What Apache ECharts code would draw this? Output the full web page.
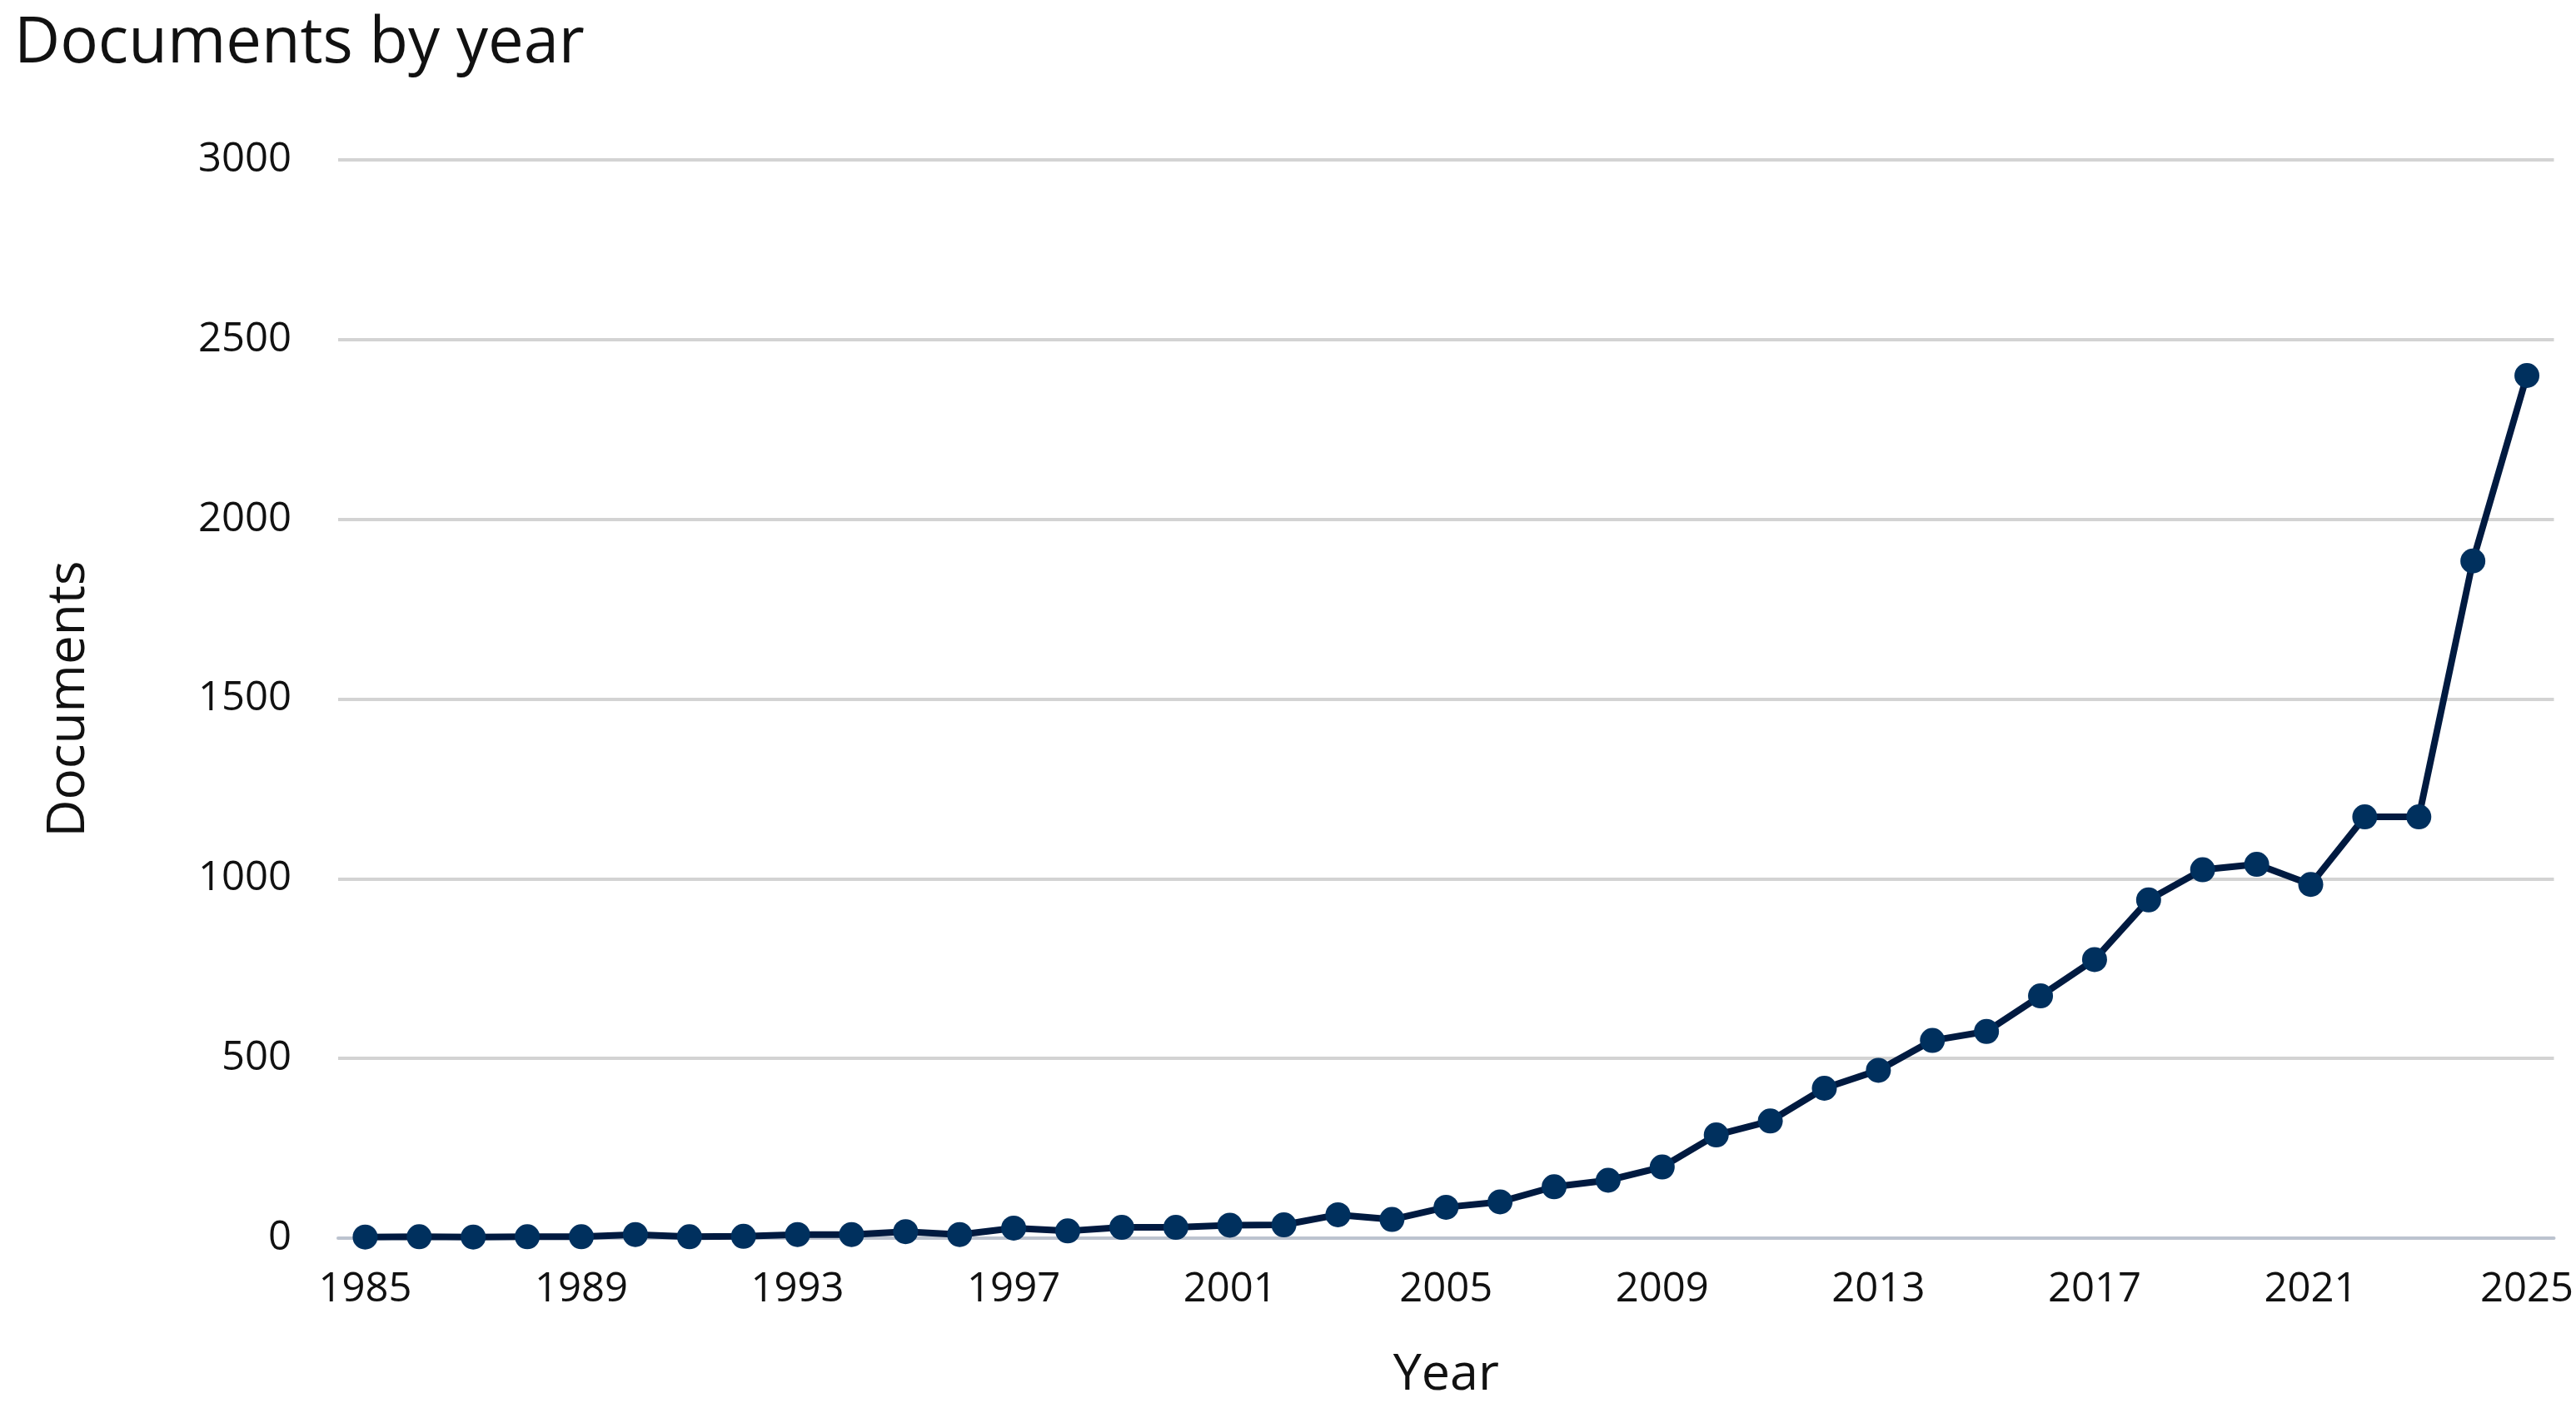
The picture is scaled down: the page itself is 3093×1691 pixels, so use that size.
<!DOCTYPE html>
<html>
<head>
<meta charset="utf-8">
<title>Documents by year</title>
<script src="https://cdn.jsdelivr.net/npm/echarts@6/dist/echarts.min.js"></script>
<style>
  html, body { margin: 0; padding: 0; background: #ffffff; }
  #docsByYearChart { width: 3093px; height: 1691px; }
</style>
</head>
<body>
<div id="docsByYearChart"></div>
<script>
var years = [
    '1985', '1986', '1987', '1988', '1989', '1990', '1991', '1992', '1993', '1994',
    '1995', '1996', '1997', '1998', '1999', '2000', '2001', '2002', '2003', '2004',
    '2005', '2006', '2007', '2008', '2009', '2010', '2011', '2012', '2013', '2014',
    '2015', '2016', '2017', '2018', '2019', '2020', '2021', '2022', '2023', '2024',
    '2025'
];
var documentCounts = [
    3, 4, 3, 4, 4, 10, 4, 5, 10, 10,
    18, 10, 28, 20, 30, 30, 36, 37, 65, 52,
    86, 101, 143, 161, 198, 287, 326, 417, 467, 550,
    575, 674, 775, 941, 1025, 1040, 984, 1172, 1172, 1884,
    2400
];
var yTicks = [0, 500, 1000, 1500, 2000, 2500, 3000];

var fontFamily = '"Open Sans", "Noto Sans", sans-serif';
var dom = document.getElementById('docsByYearChart');
var docsChart = echarts.init(dom, null, { renderer: 'canvas' });

var option = {
    backgroundColor: '#ffffff',
    animation: false,
    title: {
        text: 'Documents by year',
        left: 12,
        top: 10,
        textStyle: {
            fontFamily: fontFamily,
            fontSize: 76,
            fontWeight: 'normal',
            color: '#111111'
        }
    },
    grid: {
        left: 406,
        right: 19,
        top: 192,
        bottom: 204
    },
    xAxis: {
        type: 'category',
        data: years,
        boundaryGap: true,
        name: 'Year',
        nameLocation: 'middle',
        nameGap: 134,
        nameTextStyle: {
            fontFamily: fontFamily,
            fontSize: 61,
            color: '#111111'
        },
        axisLine: {
            show: true,
            lineStyle: { color: '#bcc3cf', width: 4 }
        },
        axisTick: { show: false },
        axisLabel: {
            interval: 3,
            margin: 38,
            fontFamily: fontFamily,
            fontSize: 49,
            color: '#111111'
        },
        splitLine: { show: false }
    },
    yAxis: {
        type: 'value',
        min: yTicks[0],
        max: yTicks[yTicks.length - 1],
        interval: yTicks[1] - yTicks[0],
        name: 'Documents',
        nameLocation: 'middle',
        nameGap: 292,
        nameRotate: 90,
        nameTextStyle: {
            fontFamily: fontFamily,
            fontSize: 62,
            color: '#111111'
        },
        axisLine: { show: false },
        axisTick: { show: false },
        axisLabel: {
            margin: 56,
            fontFamily: fontFamily,
            fontSize: 49,
            color: '#111111',
            formatter: function (value) {
                return String(value);
            }
        },
        splitLine: {
            show: true,
            lineStyle: { color: '#d3d3d3', width: 4 }
        }
    },
    series: [
        {
            name: 'Documents',
            type: 'line',
            data: documentCounts,
            symbol: 'circle',
            symbolSize: 30,
            showAllSymbol: true,
            lineStyle: { color: '#001a40', width: 8 },
            itemStyle: { color: '#00305e' }
        }
    ]
};

if (option && typeof option === 'object') {
    docsChart.setOption(option, true);
}
</script>
</body>
</html>
